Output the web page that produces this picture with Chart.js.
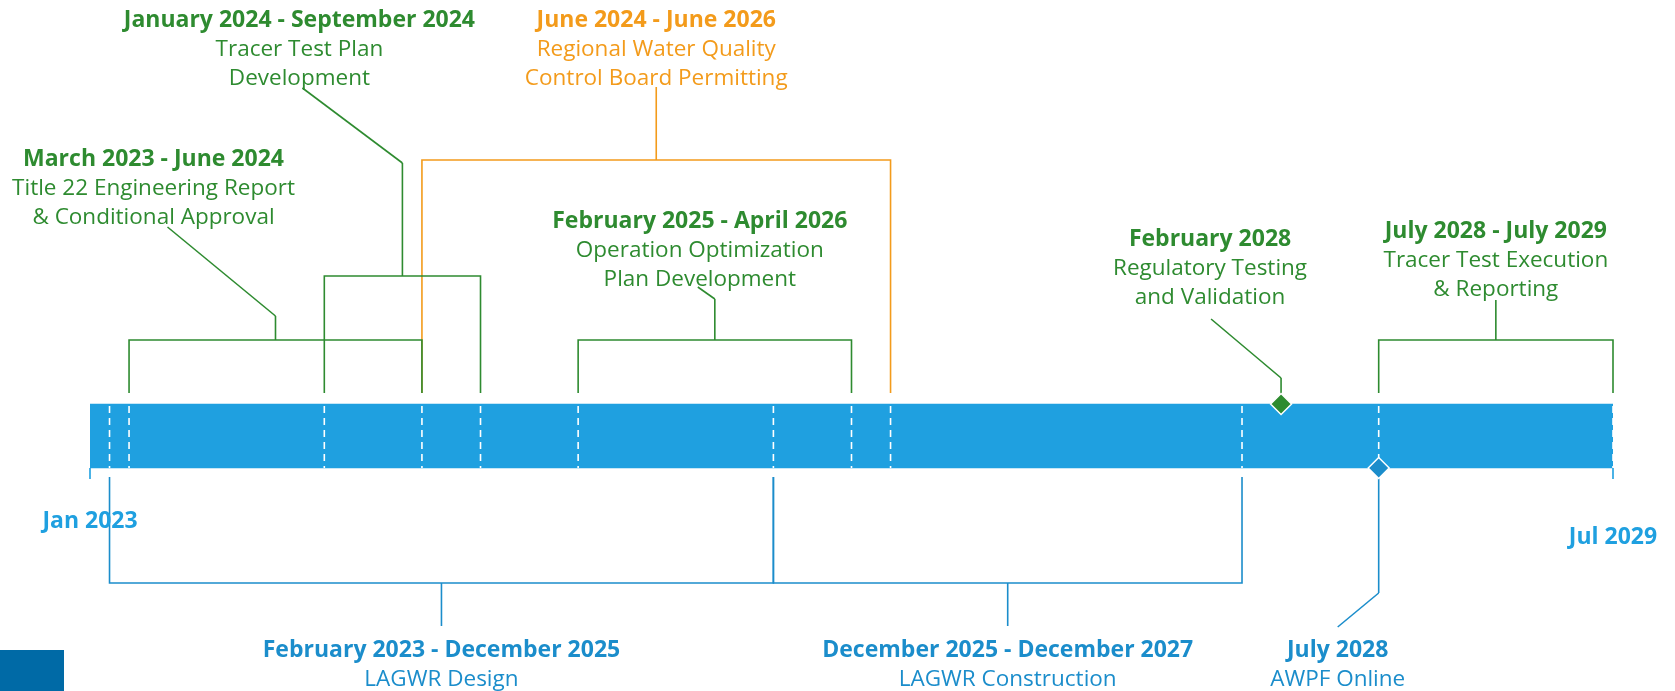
<!DOCTYPE html>
<html lang="en">
<head>
<meta charset="utf-8">
<title>LAGWR Timeline</title>
<script src="https://cdn.jsdelivr.net/npm/chart.js"></script>
<style>
  html, body { margin: 0; padding: 0; background: #fff; }
  #wrap { position: relative; width: 1675px; height: 691px; }
  #corner { position: absolute; left: 0; bottom: 0; width: 64px; height: 41px; background: #006aa6; }
</style>
</head>
<body>
<div id="wrap">
  <canvas id="timeline"></canvas>
  <div id="corner"></div>
</div>

<script>
// ---- data ----
const axisStart = '2023-01';
const axisEnd = '2029-07';
const axisLabels = ['Jan 2023', 'Jul 2029'];

const phaseTitles = [
  'March 2023 - June 2024',
  'January 2024 - September 2024',
  'June 2024 - June 2026',
  'February 2025 - April 2026',
  'July 2028 - July 2029',
  'February 2023 - December 2025',
  'December 2025 - December 2027'
];
const phaseDetails = [
  ['Title 22 Engineering Report', '& Conditional Approval'],
  ['Tracer Test Plan', 'Development'],
  ['Regional Water Quality', 'Control Board Permitting'],
  ['Operation Optimization', 'Plan Development'],
  ['Tracer Test Execution', '& Reporting'],
  ['LAGWR Design'],
  ['LAGWR Construction']
];
const phaseStarts = ['2023-03', '2024-01', '2024-06', '2025-02', '2028-07', '2023-02', '2025-12'];
const phaseEnds   = ['2024-06', '2024-09', '2026-06', '2026-04', '2029-07', '2025-12', '2027-12'];

const milestoneTitles = ['February 2028', 'July 2028'];
const milestoneDetails = [['Regulatory Testing', 'and Validation'], ['AWPF Online']];
const milestoneDates = ['2028-02', '2028-07'];

// ---- look & layout ----
const GREEN = '#2e8b30', ORANGE = '#f39b1b', BLUE = '#1b8dcb', BAR = '#1fa0e0';
const FONT = '"Open Sans", "Noto Sans", sans-serif';
const TITLE_SIZE = 23, TEXT_SIZE = 22.5, LINE_H = 29.5;
// vertical layout grid runs 0 (top) .. 691 (bottom)
const BAR_Y = 436, BAR_H = 64;
const axisLabelY = [521, 537];

const phaseStyle = [
  { color: GREEN,  legEnd: 393, level: 340, stemEnd: 316, leader: [-108, 227], labelDx: -122, titleY: 159 },
  { color: GREEN,  legEnd: 393, level: 276, stemEnd: 163, leader: [-100, 88],  labelDx: -103, titleY: 20 },
  { color: ORANGE, legEnd: 393, level: 160, stemEnd: 87,  leader: null,        labelDx: 0,    titleY: 20 },
  { color: GREEN,  legEnd: 393, level: 340, stemEnd: 299, leader: [-17, 287],  labelDx: -15,  titleY: 221 },
  { color: GREEN,  legEnd: 393, level: 340, stemEnd: 300, leader: null,        labelDx: 0,    titleY: 231 },
  { color: BLUE,   legEnd: 477, level: 583, stemEnd: 626, leader: null,        labelDx: 0,    titleY: 650 },
  { color: BLUE,   legEnd: 477, level: 583, stemEnd: 626, leader: null,        labelDx: 0,    titleY: 650 }
];
const milestoneStyle = [
  { color: GREEN, edge: -1, stemEnd: 378, leader: [-70, 319], labelDx: -71, titleY: 239 },
  { color: BLUE,  edge: 1,  stemEnd: 593, leader: [-41, 627], labelDx: -41, titleY: 650 }
];

function months(s) {
  const [y, m] = s.split('-').map(Number);
  const [y0, m0] = axisStart.split('-').map(Number);
  return (y - y0) * 12 + (m - m0);
}

const barTop = BAR_Y - BAR_H / 2, barBottom = BAR_Y + BAR_H / 2;
const GAP = { x: null, y: null };

// dashed white markers at every phase boundary
const boundaries = [...new Set(phaseStarts.concat(phaseEnds).map(months))].sort((a, b) => a - b);
const dashData = [];
boundaries.forEach(m => dashData.push({ x: m, y: barTop + 2 }, { x: m, y: barBottom }, GAP));

const tickData = [
  { x: months(axisStart), y: barBottom }, { x: months(axisStart), y: barBottom + 11 }, GAP,
  { x: months(axisEnd), y: barBottom }, { x: months(axisEnd), y: barBottom + 11 }
];

const lineBase = { type: 'line', pointRadius: 0, borderWidth: 1.6, fill: false, tension: 0, clip: false, spanGaps: false };

const bracketSets = phaseTitles.map((t, i) => {
  const s = months(phaseStarts[i]), e = months(phaseEnds[i]), mid = (s + e) / 2, st = phaseStyle[i];
  return Object.assign({}, lineBase, {
    label: t,
    borderColor: st.color,
    order: 3,
    data: [
      { x: s, y: st.legEnd }, { x: s, y: st.level }, { x: e, y: st.level }, { x: e, y: st.legEnd }, GAP,
      { x: mid, y: st.level }, { x: mid, y: st.stemEnd }
    ]
  });
});

const stemSets = milestoneTitles.map((t, i) => {
  const d = months(milestoneDates[i]), st = milestoneStyle[i];
  return Object.assign({}, lineBase, {
    label: t + ' stem',
    borderColor: st.color,
    order: 2,
    data: [{ x: d, y: BAR_Y + st.edge * BAR_H / 2 }, { x: d, y: st.stemEnd }]
  });
});

// leader lines and all label text
const labelPlugin = {
  id: 'labels',
  afterDatasetsDraw(chart) {
    const ctx = chart.ctx, xs = chart.scales.x, ys = chart.scales.y;
    ctx.save();
    ctx.textAlign = 'center';
    ctx.textBaseline = 'middle';

    function block(x, style, title, lines) {
      ctx.fillStyle = style.color;
      ctx.font = 'bold ' + TITLE_SIZE + 'px ' + FONT;
      ctx.fillText(title, x + style.labelDx, ys.getPixelForValue(style.titleY));
      ctx.font = TEXT_SIZE + 'px ' + FONT;
      lines.forEach((l, k) => ctx.fillText(l, x + style.labelDx, ys.getPixelForValue(style.titleY) + LINE_H * (k + 1)));
      if (style.leader) {
        ctx.strokeStyle = style.color;
        ctx.lineWidth = 1.6;
        ctx.beginPath();
        ctx.moveTo(x, ys.getPixelForValue(style.stemEnd));
        ctx.lineTo(x + style.leader[0], ys.getPixelForValue(style.leader[1]));
        ctx.stroke();
      }
    }

    phaseTitles.forEach((t, i) => {
      const mid = (months(phaseStarts[i]) + months(phaseEnds[i])) / 2;
      block(xs.getPixelForValue(mid), phaseStyle[i], t, phaseDetails[i]);
    });
    milestoneTitles.forEach((t, i) => {
      block(xs.getPixelForValue(months(milestoneDates[i])), milestoneStyle[i], t, milestoneDetails[i]);
    });

    ctx.fillStyle = BAR;
    ctx.font = 'bold ' + TITLE_SIZE + 'px ' + FONT;
    [axisStart, axisEnd].forEach((d, i) => {
      ctx.fillText(axisLabels[i], xs.getPixelForValue(months(d)), ys.getPixelForValue(axisLabelY[i]));
    });
    ctx.restore();
  }
};

new Chart(document.getElementById('timeline'), {
  type: 'bar',
  data: {
    datasets: [
      {
        label: 'Timeline',
        indexAxis: 'y',
        data: [{ x: [months(axisStart), months(axisEnd)], y: BAR_Y }],
        backgroundColor: BAR,
        borderWidth: 0,
        barThickness: BAR_H,
        order: 10
      },
      Object.assign({}, lineBase, { label: 'boundaries', data: dashData, borderColor: '#ffffff', borderWidth: 1.6, borderDash: [7, 5], order: 8 }),
      Object.assign({}, lineBase, { label: 'axis ticks', data: tickData, borderColor: BAR, borderWidth: 1.6, order: 7 }),
      ...bracketSets,
      ...stemSets,
      {
        type: 'line',
        label: 'milestones',
        showLine: false,
        clip: false,
        data: milestoneDates.map((d, i) => ({ x: months(d), y: BAR_Y + milestoneStyle[i].edge * BAR_H / 2 })),
        pointStyle: 'rectRot',
        pointRadius: 10.5,
        pointBackgroundColor: milestoneStyle.map(s => s.color),
        pointBorderColor: '#ffffff',
        pointBorderWidth: 1.5,
        order: 0
      }
    ]
  },
  options: {
    responsive: true,
    maintainAspectRatio: false,
    animation: false,
    events: [],
    devicePixelRatio: 1,
    layout: { padding: { left: 90, right: 62, top: 0, bottom: 0 }, autoPadding: false },
    scales: {
      x: { type: 'linear', display: false, offset: false, grace: 0, beginAtZero: false,
           min: months(axisStart), max: months(axisEnd), bounds: 'data' },
      y: { type: 'linear', display: false, offset: false, grace: 0, beginAtZero: false,
           min: 0, max: 691, reverse: true, bounds: 'data' }
    },
    plugins: { legend: { display: false }, tooltip: { enabled: false } }
  },
  plugins: [labelPlugin]
});
</script>
</body>
</html>
